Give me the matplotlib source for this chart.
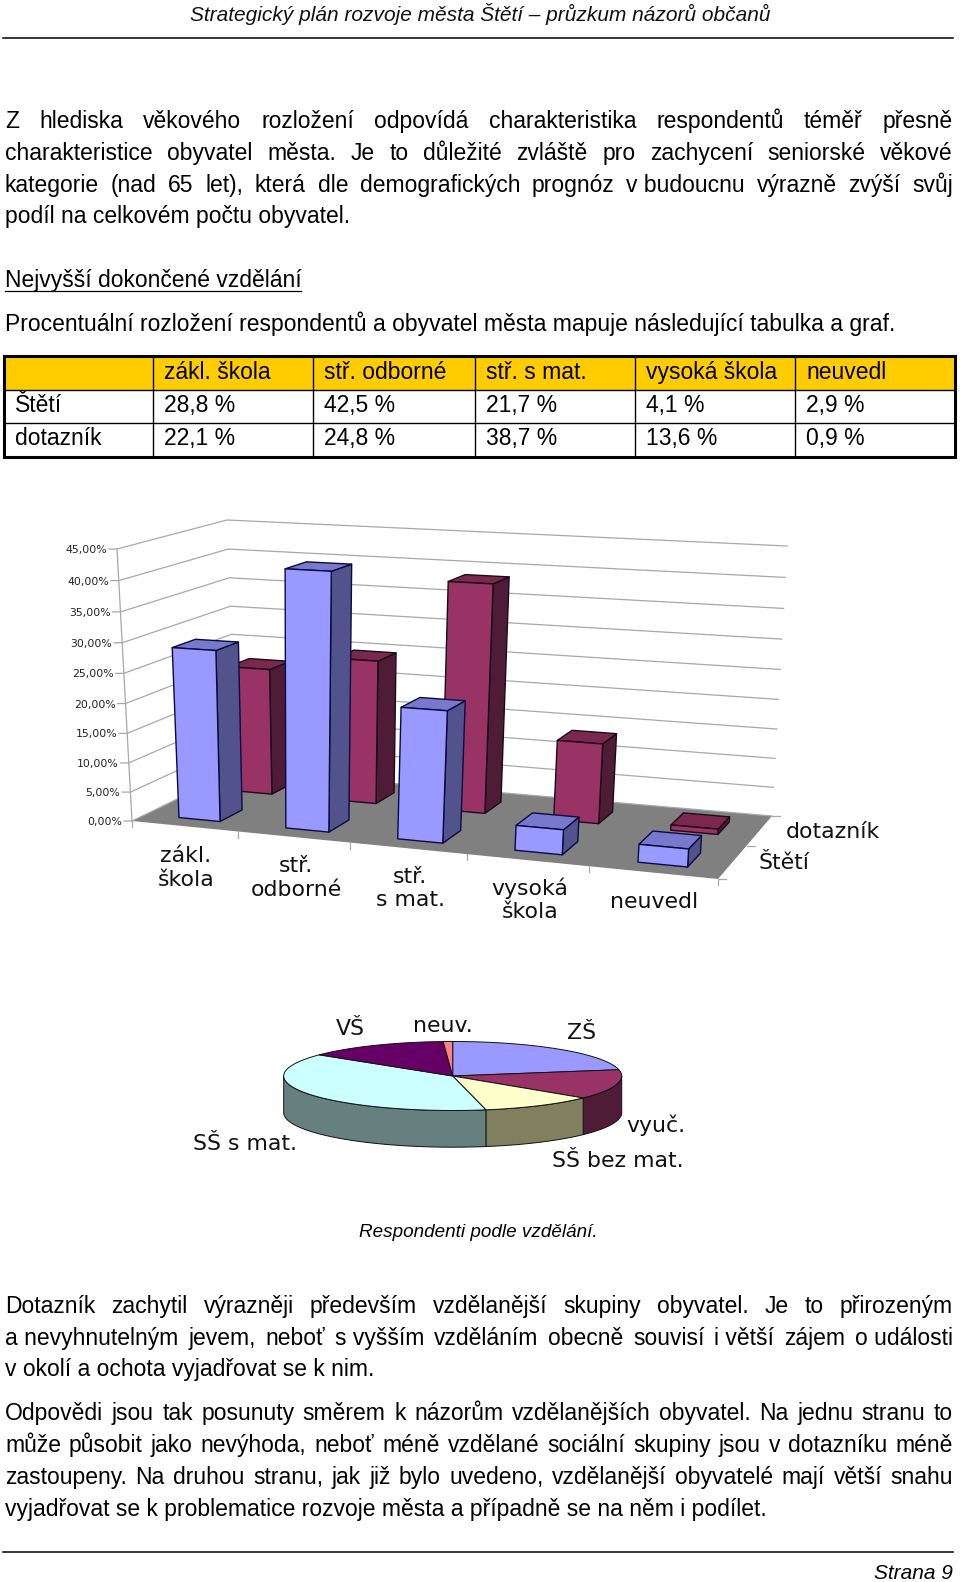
"""Survey page: education table, 3D bar chart and 3D pie, drawn in page pixels."""

import matplotlib

matplotlib.use("Agg")
import matplotlib.pyplot as plt
import numpy as np
from matplotlib.patches import Polygon, Rectangle

plt.rcParams["font.family"] = ["Liberation Sans", "DejaVu Sans"]

W, H = 960, 1582
NB = "\u00a0"

# table
table_cols = ["", "zákl. škola", "stř. odborné", "stř. s mat.", "vysoká škola", "neuvedl"]
table_rows = [
    ["Štětí", "28,8 %", "42,5 %", "21,7 %", "4,1 %", "2,9 %"],
    ["dotazník", "22,1 %", "24,8 %", "38,7 %", "13,6 %", "0,9 %"],
]

# bar chart
bar_cats = ["zákl.\nškola", "stř.\nodborné", "stř.\ns mat.", "vysoká\nškola", "neuvedl"]
steti = [28.8, 42.5, 21.7, 4.1, 2.9]
dotaznik = [22.1, 24.8, 38.7, 13.6, 0.9]
y_ticks = [0, 5, 10, 15, 20, 25, 30, 35, 40, 45]

# pie
pie_vals = [22.1, 13.9, 10.9, 38.7, 13.6, 0.9]
pie_top = ["#9999FF", "#993366", "#FFFFCC", "#CCFFFF", "#660066", "#FF8080"]
pie_side = ["#4F4F85", "#4F1C38", "#808060", "#668080", "#330033", "#804040"]

# text: (line, y baseline, justified)
para1 = [
    ("Z hlediska věkového rozložení odpovídá charakteristika respondentů téměř přesně", 128, True),
    ("charakteristice obyvatel města. Je to důležité zvláště pro zachycení seniorské věkové", 160, True),
    (f"kategorie (nad 65 let), která dle demografických prognóz v{NB}budoucnu výrazně zvýší svůj", 192, True),
    ("podíl na celkovém počtu obyvatel.", 223, False),
    ("Procentuální rozložení respondentů a obyvatel města mapuje následující tabulka a graf.", 331, False),
]
para2 = [
    ("Dotazník zachytil výrazněji především vzdělanější skupiny obyvatel. Je to přirozeným", 1313, True),
    (f"a{NB}nevyhnutelným jevem, neboť s{NB}vyšším vzděláním obecně souvisí i{NB}větší zájem o{NB}události", 1345, True),
    (f"v{NB}okolí a{NB}ochota vyjadřovat se k{NB}nim.", 1376, False),
    ("Odpovědi jsou tak posunuty směrem k názorům vzdělanějších obyvatel. Na jednu stranu to", 1420, True),
    ("může působit jako nevýhoda, neboť méně vzdělané sociální skupiny jsou v dotazníku méně", 1452, True),
    ("zastoupeny. Na druhou stranu, jak již bylo uvedeno, vzdělanější obyvatelé mají větší snahu", 1484, True),
    ("vyjadřovat se k problematice rozvoje města a případně se na něm i podílet.", 1516, False),
]

BODY = 16.5
CHART = 15.8
fig = plt.figure(figsize=(W / 100, H / 100), dpi=100)
ax = fig.add_axes([0, 0, 1, 1])
ax.set_xlim(0, W)
ax.set_ylim(H, 0)
ax.axis("off")
renderer = fig.canvas.get_renderer()


def text_line(s, y, justified, x0=5, x1=953):
    if not justified:
        ax.text(x0, y, s, fontsize=BODY, va="baseline")
        return
    words = s.split(" ")
    arts = [ax.text(0, y, w, fontsize=BODY, va="baseline") for w in words]
    widths = [a.get_window_extent(renderer).width for a in arts]
    gap = (x1 - x0 - sum(widths)) / (len(words) - 1)
    x = x0
    for a, w in zip(arts, widths):
        a.set_x(x)
        x += w + gap


ax.text(480, 21, "Strategický plán rozvoje města Štětí – průzkum názorů občanů",
        fontsize=15, style="italic", ha="center", va="baseline", color="#111111")
ax.plot([3, 953], [38, 38], color="black", lw=1.1)
for s, y, j in para1 + para2:
    text_line(s, y, j)
ax.text(5, 287, "Nejvyšší dokončené vzdělání", fontsize=BODY, va="baseline")
ax.plot([5, 301], [291, 291], color="black", lw=0.9)

# table
col_x = [4, 153, 313, 475, 635, 795, 955]
row_y = [356, 390, 423, 457]
ax.add_patch(Rectangle((col_x[0], row_y[0]), col_x[-1] - col_x[0], row_y[1] - row_y[0], fc="#FFCC00", ec="none"))
for x in col_x[1:-1]:
    ax.plot([x, x], [row_y[0], row_y[-1]], color="black", lw=1.0)
for y in row_y[1:-1]:
    ax.plot([col_x[0], col_x[-1]], [y, y], color="black", lw=1.0)
ax.add_patch(Rectangle((col_x[0], row_y[0]), col_x[-1] - col_x[0], row_y[-1] - row_y[0], fc="none", ec="black", lw=2.2, zorder=2.5))
for j, lab in enumerate(table_cols):
    ax.text(col_x[j] + 11, 379, lab, fontsize=BODY, va="baseline")
for i, row in enumerate(table_rows):
    for j, lab in enumerate(row):
        ax.text(col_x[j] + 11, 412 + i * 33, lab, fontsize=BODY, va="baseline")


# 3D bar chart projection, fitted on the corners of the floor and the 45 % plane
def homography(dst):
    src = [(0, 0), (5, 0), (5, 1), (0, 1)]
    A, b = [], []
    for (u, d), (x, y) in zip(src, dst):
        A.append([u, d, 1, 0, 0, 0, -u * x, -d * x])
        A.append([0, 0, 0, u, d, 1, -u * y, -d * y])
        b += [x, y]
    return np.append(np.linalg.solve(np.array(A, float), np.array(b, float)), 1).reshape(3, 3)


H_floor = homography([(132, 821), (718, 879), (772, 816), (237, 770)])
H_top = homography([(117, 549), (735, 580), (787, 546), (227, 520)])
PERSP = 0.95  # gridlines sit slightly further apart towards the top


def proj(u, d, v):
    p0 = H_floor @ [u, d, 1]
    p1 = H_top @ [u, d, 1]
    p0 = p0[:2] / p0[2]
    p1 = p1[:2] / p1[2]
    s = v / y_ticks[-1]
    return p0 + (p1 - p0) * s * PERSP / (1 + (PERSP - 1) * s)


GRID = "#A8A8A8"
ax.add_patch(Polygon([proj(0, 0, 0), proj(5, 0, 0), proj(5, 1, 0), proj(0, 1, 0)], fc="#808080", ec="none"))
for v in y_ticks:
    a, b, c = proj(0, 0, v), proj(0, 1, v), proj(5, 1, v)
    ax.plot([a[0] - 8, a[0], b[0], c[0]], [a[1], a[1], b[1], c[1]], color=GRID, lw=0.9, solid_joinstyle="miter")
    ax.text(a[0] - 10, a[1] + 1, f"{v},00%", family="DejaVu Sans", fontsize=7.8, ha="right", va="center", color="#222222")
a, b = proj(0, 0, 0), proj(0, 0, 45)
ax.plot([a[0], b[0]], [a[1], b[1]], color=GRID, lw=0.9)
for i in range(0, 6):
    p = proj(i, 0, 0)
    ax.plot([p[0], p[0]], [p[1], p[1] + 6], color=GRID, lw=0.9)
for d in [0, 0.5, 1]:
    p = proj(5, d, 0)
    ax.plot([p[0], p[0] + 8], [p[1], p[1]], color=GRID, lw=0.9)


def bar3d(i, d0, d1, v, front, side, top, edge):
    u0, u1 = i + 0.32, i + 0.71
    faces = [
        ([(u1, d0, 0), (u1, d1, 0), (u1, d1, v), (u1, d0, v)], side),
        ([(u0, d0, v), (u1, d0, v), (u1, d1, v), (u0, d1, v)], top),
        ([(u0, d0, 0), (u1, d0, 0), (u1, d0, v), (u0, d0, v)], front),
    ]
    for pts, fc in faces:
        ax.add_patch(Polygon([proj(*q) for q in pts], fc=fc, ec=edge, lw=1.0, joinstyle="round", zorder=2.5))


for i, v in enumerate(dotaznik):
    bar3d(i, 0.63, 0.84, v, "#993366", "#4F1C38", "#7A2850", "#1A0A18")
for i, v in enumerate(steti):
    bar3d(i, 0.12, 0.33, v, "#9999FF", "#52528C", "#7878CC", "#0A0A40")

cat_xy = [(186, 862), (296, 872), (410, 883), (530, 895), (654, 908)]
for lab, (x, y) in zip(bar_cats, cat_xy):
    for k, part in enumerate(lab.split("\n")):
        ax.text(x, y + k * 23.5, part, family="DejaVu Sans", fontsize=CHART, ha="center", va="baseline", color="#111111")
ax.text(786, 838, "dotazník", family="DejaVu Sans", fontsize=CHART, va="baseline", color="#111111")
ax.text(759, 869, "Štětí", family="DejaVu Sans", fontsize=CHART, va="baseline", color="#111111")

# 3D pie
cx, cy, rx, ry, depth = 452.7, 1076, 169, 34.5, 36.7


def rim(t):
    # t is the angle clockwise from the top of the ellipse
    return cx + rx * np.sin(t), cy - ry * np.cos(t)


edges = np.concatenate([[0], np.cumsum(pie_vals)]) / sum(pie_vals) * 2 * np.pi
for t0, t1, col in zip(edges[:-1], edges[1:], pie_side):
    lo, hi = max(t0, np.pi / 2), min(t1, 3 * np.pi / 2)
    if hi <= lo:
        continue
    t = np.linspace(lo, hi, 60)
    xs, ys = rim(t)
    pts = np.r_[np.c_[xs, ys], np.c_[xs, ys + depth][::-1]]
    ax.add_patch(Polygon(pts, fc=col, ec="#111111", lw=0.7))
for t0, t1, col in zip(edges[:-1], edges[1:], pie_top):
    t = np.linspace(t0, t1, 100)
    xs, ys = rim(t)
    ax.add_patch(Polygon(np.r_[[[cx, cy]], np.c_[xs, ys]], fc=col, ec="#111111", lw=0.7))

pie_labels = [("VŠ", 350, 1035), ("neuv.", 443, 1032), ("ZŠ", 582, 1039),
              ("SŠ s mat.", 245, 1150), ("vyuč.", 656, 1132), ("SŠ bez mat.", 618, 1167)]
for lab, x, y in pie_labels:
    ax.text(x, y, lab, family="DejaVu Sans", fontsize=CHART, ha="center", va="baseline", color="#111111")

ax.text(478, 1237, "Respondenti podle vzdělání.", fontsize=13.6, style="italic", ha="center", va="baseline")

ax.plot([3, 953], [1552, 1552], color="black", lw=1.1)
ax.text(953, 1579, "Strana 9", fontsize=15, style="italic", ha="right", va="baseline")

fig.savefig("out.png", dpi=100)
plt.close(fig)
